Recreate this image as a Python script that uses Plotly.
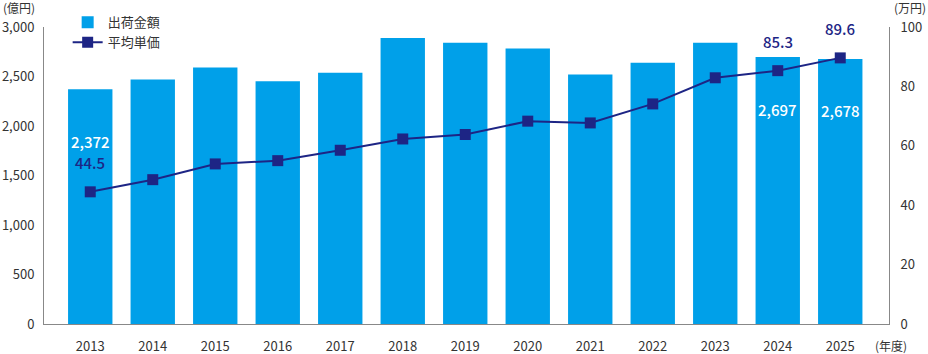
import plotly.graph_objects as go

years = ["2013","2014","2015","2016","2017","2018","2019","2020","2021","2022","2023","2024","2025"]
shipment = [2372, 2469, 2590, 2452, 2539, 2889, 2842, 2782, 2519, 2640, 2842, 2697, 2678]
unit_price = [44.5, 48.6, 53.9, 55.0, 58.5, 62.3, 63.8, 68.3, 67.7, 74.1, 82.9, 85.3, 89.6]
labeled = ["2013", "2024", "2025"]

left_ticks = [0, 500, 1000, 1500, 2000, 2500, 3000]
left_ticktext = ["0", "500", "1,000", "1,500", "2,000", "2,500", "3,000"]
right_ticks = [0, 20, 40, 60, 80, 100]

BAR = "#00A0E9"
NAVY = "#1D2585"
FONT = "Noto Sans CJK JP"

fig = go.Figure()
fig.add_trace(go.Bar(x=years, y=shipment, name="出荷金額", marker_color=BAR,
                     marker_line_width=0, width=0.71))
fig.add_trace(go.Scatter(x=years, y=unit_price, name="平均単価", yaxis="y2",
                         mode="lines+markers", line=dict(color=NAVY, width=2),
                         marker=dict(symbol="square", size=11, color=NAVY)))

ann = []
for i, yr in enumerate(years):
    if yr in labeled:
        ann.append(dict(x=i, y=shipment[i], xref="x", yref="y",
                        text=f"{shipment[i]:,}", showarrow=False, yshift=-52,
                        font=dict(color="white", size=15, family=FONT, weight=500)))
        ann.append(dict(x=i, y=unit_price[i], xref="x", yref="y2",
                        text=f"{unit_price[i]:.1f}", showarrow=False, yshift=29,
                        font=dict(color=NAVY, size=15, family=FONT, weight=500)))

ann.append(dict(x=0, y=1, xref="paper", yref="paper", xanchor="left", yanchor="bottom",
                xshift=-43, yshift=9, text="(億円)", showarrow=False,
                font=dict(size=12, color="#333", family=FONT)))
ann.append(dict(x=1, y=1, xref="paper", yref="paper", xanchor="left", yanchor="bottom",
                xshift=3, yshift=9, text="(万円)", showarrow=False,
                font=dict(size=12, color="#333", family=FONT)))
ann.append(dict(x=1, y=0, xref="paper", yref="paper", xanchor="left", yanchor="top",
                xshift=-16, yshift=-11, text="(年度)", showarrow=False,
                font=dict(size=12, color="#333", family=FONT)))

fig.update_layout(
    width=928, height=354,
    margin=dict(l=44, r=39, t=27, b=30, autoexpand=False),
    paper_bgcolor="white", plot_bgcolor="white",
    font=dict(family=FONT, size=13, color="#333"),
    showlegend=True,
    legend=dict(x=0.028, y=1.066, xanchor="left", yanchor="top",
                bgcolor="rgba(0,0,0,0)", font=dict(size=13, color="#333"),
                itemwidth=30, tracegroupgap=0),
    xaxis=dict(type="category", range=[-0.74, 12.78], showline=True, linecolor="#888",
               linewidth=1, ticks="", tickfont=dict(size=13), showgrid=False,
               ticklabelstandoff=10, automargin=False),
    yaxis=dict(range=[0, 3000], tickvals=left_ticks, ticktext=left_ticktext,
               showline=True, linecolor="#888", linewidth=1, showgrid=False,
               zeroline=False, ticks="", ticklabelstandoff=6, tickfont=dict(size=13),
               automargin=False),
    yaxis2=dict(range=[0, 100], tickvals=right_ticks, overlaying="y", side="right",
                showline=True, linecolor="#888", linewidth=1, showgrid=False,
                zeroline=False, ticks="", ticklabelstandoff=8, tickfont=dict(size=13),
                automargin=False),
    annotations=ann,
)
fig.write_html("out.html")
